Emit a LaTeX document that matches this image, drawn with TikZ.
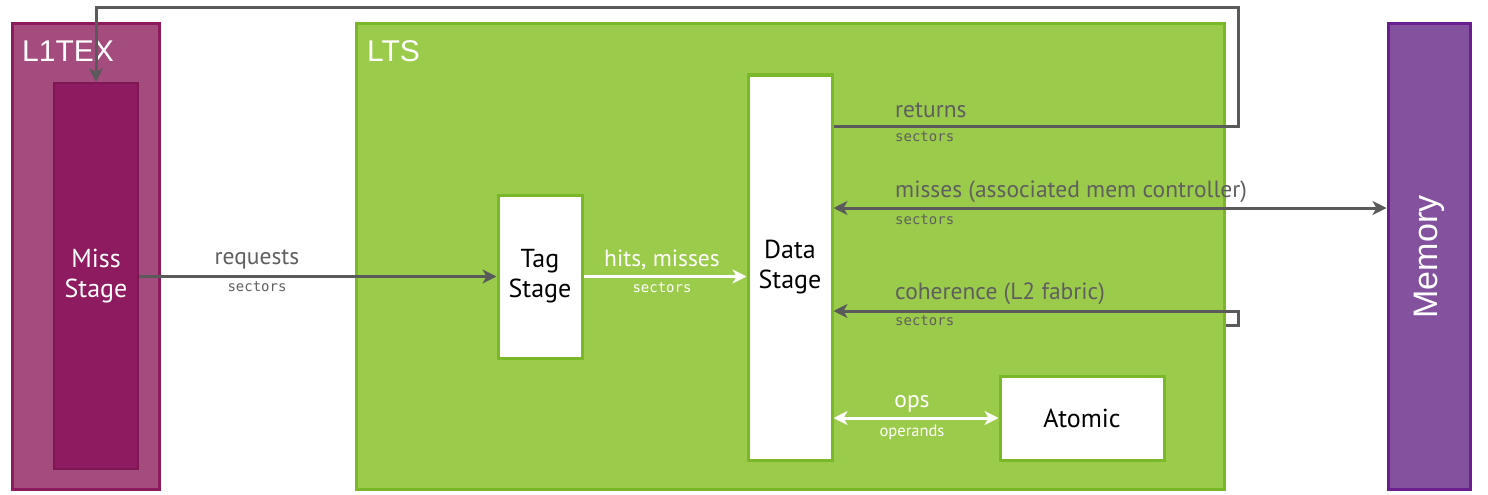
\documentclass[tikz,border=0pt]{standalone}
\usepackage{fontspec}
\setmainfont{PT Sans}
\newfontfamily\arialf{Liberation Sans}
\newfontfamily\monof{DejaVu Sans Mono}
\usetikzlibrary{arrows.meta}
\definecolor{l1fill}{HTML}{A54C7E}
\definecolor{l1edge}{HTML}{8E1A5E}
\definecolor{missfill}{HTML}{8E1B5F}
\definecolor{ltsfill}{HTML}{9BCB4A}
\definecolor{ltsedge}{HTML}{7AB829}
\definecolor{memfill}{HTML}{84519F}
\definecolor{memedge}{HTML}{6A1E8E}
\definecolor{conn}{HTML}{5A5A5A}
\definecolor{lbl}{HTML}{5F5F5F}
\tikzset{
  box/.style={draw, line width=3pt, inner sep=0pt, anchor=center},
  whitebox/.style={box, fill=white, draw=ltsedge, font=\fontsize{26}{30}\selectfont, align=center, text=black},
  garrow/.style={draw=conn, line width=3pt, -{Stealth[length=14pt,width=14pt,inset=4pt]}},
  garrows/.style={draw=conn, line width=3pt, {Stealth[length=14pt,width=14pt,inset=4pt]}-{Stealth[length=14pt,width=14pt,inset=4pt]}},
  warrow/.style={draw=white, line width=3pt, -{Stealth[length=14pt,width=14pt,inset=4pt]}},
  warrows/.style={draw=white, line width=3pt, {Stealth[length=14pt,width=14pt,inset=4pt]}-{Stealth[length=14pt,width=14pt,inset=4pt]}},
  biglbl/.style={font=\fontsize{23.5}{27}\selectfont, text=lbl, inner sep=0pt},
  smalllbl/.style={font=\monof\fontsize{14}{16}\selectfont, text=lbl, inner sep=0pt},
  title/.style={font=\arialf\fontsize{30}{34}\selectfont, text=white, inner sep=0pt, anchor=base west}
}
\begin{document}
\begin{tikzpicture}[x=1pt,y=-1pt]
\useasboundingbox (0,0) rectangle (1488,495);
% containers
\node[box, fill=l1fill, draw=l1edge, minimum width=147pt, minimum height=465pt] (l1tex) at (85.5,256.5) {};
\node[box, fill=ltsfill, draw=ltsedge, minimum width=868pt, minimum height=465pt] (lts) at (790,256.5) {};
\node[box, fill=memfill, draw=memedge, minimum width=82pt, minimum height=465pt] (mem) at (1429,256.5) {};
\node[title] (l1t) at (22,62) {L1TEX};
\node[title] (ltst) at (367,62) {LTS};
\node[font=\arialf\fontsize{34}{38}\selectfont, text=white, rotate=90, inner sep=0pt] (memt) at (1429,257) {Memory};
% stages
\node[box, fill=missfill, draw=l1edge!90!black, line width=2pt, minimum width=84pt, minimum height=386pt, text=white, font=\fontsize{26}{30}\selectfont, align=center] (miss) at (96,276) {Miss\\Stage};
\node[whitebox, minimum width=84pt, minimum height=163pt] (tag) at (540,276.5) {Tag\\Stage};
\node[whitebox, minimum width=84pt, minimum height=385pt] (data) at (790,267.5) {Data\\Stage};
\node[whitebox, minimum width=164pt, minimum height=84pt] (atomic) at (1082,418) {Atomic};
% coordinates
\coordinate (rt) at (1238,126);
\coordinate (rtop) at (1238,8);
\coordinate (mz) at (0,208);
\coordinate (cb) at (1238,311);
\coordinate (cbl) at (1238,325);
% connectors
\draw[garrow] (miss.east |- tag.west) -- (tag.west);
\draw[warrow] (tag.east) -- (tag.east -| data.west);
\draw[garrow, line join=miter] (data.east |- rt) -- (rt) -- (rtop) -| (miss.north);
\draw[garrows] (data.east |- mz) -- (mem.west |- mz);
\draw[garrow, line join=miter] (lts.east |- cbl) -- (cbl) -- (cb) -- (data.east |- cb);
\draw[warrows] (data.east |- atomic.west) -- (atomic.west);
% labels
\node[biglbl] (lreq) at (257,260) {requests};
\node[smalllbl] (lreqs) at (257,287) {sectors};
\node[biglbl, text=white] (lhit) at (662,260) {hits, misses};
\node[smalllbl, text=white] (lhits) at (662,288) {sectors};
\node[biglbl, anchor=west] (lret) at (895,110) {returns};
\node[smalllbl, anchor=west] (lrets) at (895,137) {sectors};
\node[biglbl, anchor=west] (lmis) at (895,192) {misses (associated mem controller)};
\node[smalllbl, anchor=west] (lmiss) at (895,220) {sectors};
\node[biglbl, anchor=west] (lcoh) at (895,294) {coherence (L2 fabric)};
\node[smalllbl, anchor=west] (lcohs) at (895,321) {sectors};
\node[biglbl, text=white] (lops) at (912,404) {ops};
\node[font=\fontsize{16.5}{18}\selectfont, text=white, inner sep=0pt] (lopss) at (912,432) {operands};
\end{tikzpicture}
\end{document}
